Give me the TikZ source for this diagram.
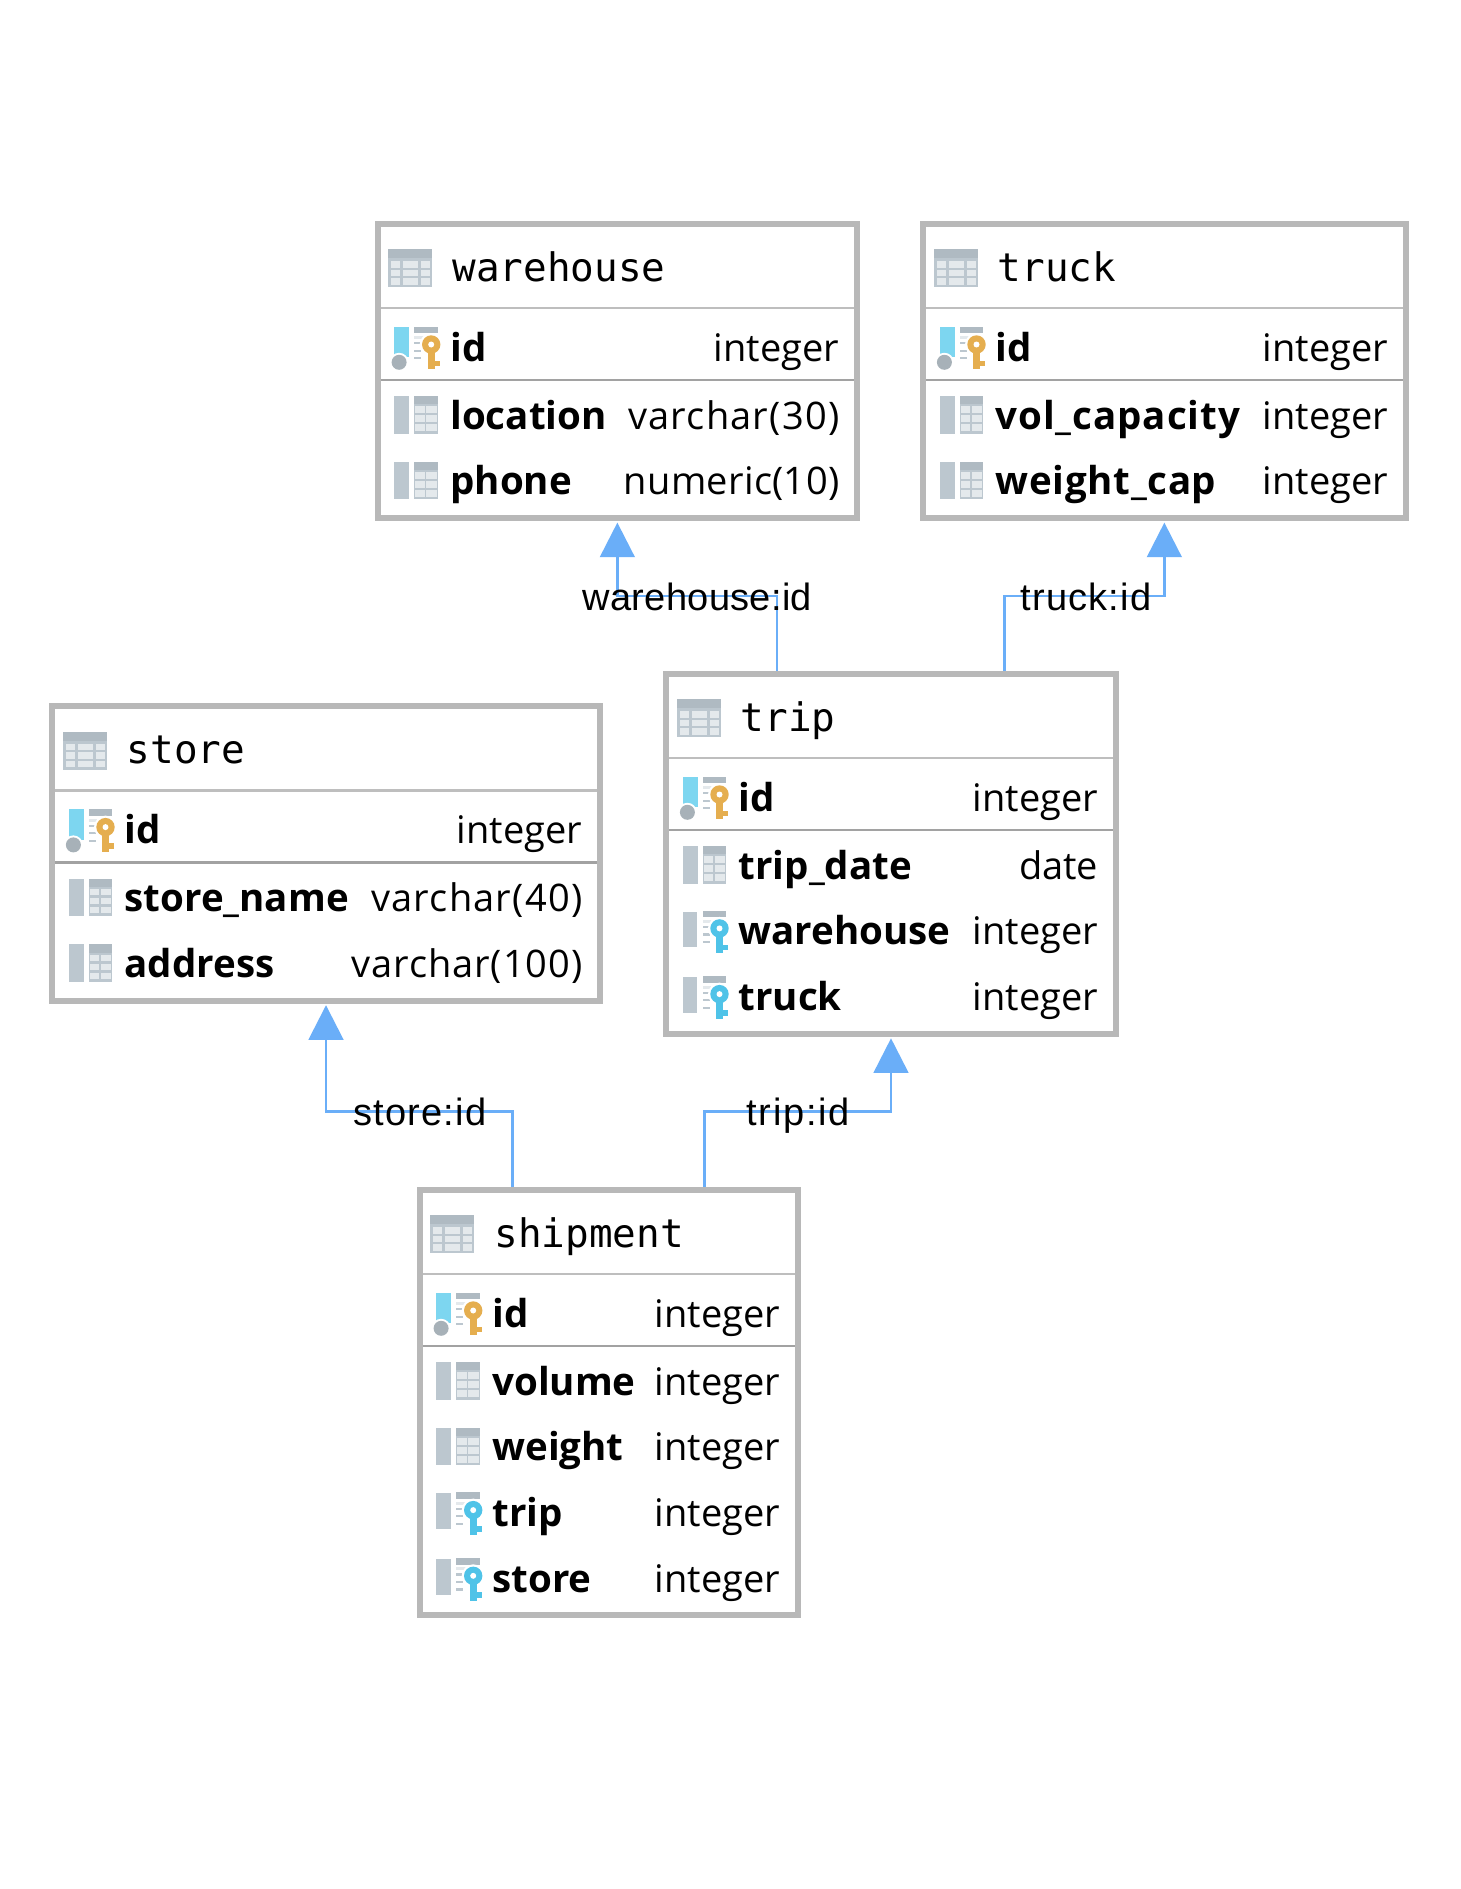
\documentclass[tikz,border=0pt]{standalone}
\usepackage{fontspec}
\setmainfont{Open Sans}
\newfontfamily\titlemono{DejaVu Sans Mono}
\newfontfamily\edgefont{Liberation Sans}
\newcommand{\spaced}[2]{{\addfontfeatures{LetterSpace=#1}#2}}
\newcommand{\rtype}[2]{\spaced{#1}{#2}\hspace{2.2pt}}
\usetikzlibrary{arrows.meta}
\definecolor{bordergray}{HTML}{B8B8B8}
\definecolor{divlight}{HTML}{BEBEBE}
\definecolor{divdark}{HTML}{A2A2A2}
\definecolor{fkblue}{HTML}{6AAEF8}
\definecolor{iconbar}{HTML}{BCC7CF}
\definecolor{iconhead}{HTML}{AFBAC2}
\definecolor{iconcell}{HTML}{E4E9EC}
\definecolor{pkbar}{HTML}{7DD6F0}
\definecolor{dotgray}{HTML}{A7B1B8}
\definecolor{keygold}{HTML}{E5AE4F}
\definecolor{keycyan}{HTML}{4FC3E8}
\newcommand{\drawkey}[1]{%
  \fill[white] (36.8,-15.5) circle (11.5);
  \fill[#1] (33.6,-15) rectangle (40.2,9.2);
  \fill[#1] (40,0.8) rectangle (45.6,6.4);
  \fill[#1] (36.8,-15.5) circle (9.2);
  \fill[white] (36.8,-15.5) circle (3);
}
\newcommand{\drawdashes}{%
  \fill[iconhead] (20,-33.3) rectangle (43.4,-26.6);
  \fill[iconcell] (20,-24) rectangle (43.4,-21);
  \foreach \yy in {-18,-10.5,-3}{\fill[iconbar] (20,\yy) rectangle (27,\yy+2.2);}
}
\tikzset{
  tablebox/.style={draw=bordergray,line width=6pt,fill=white,inner sep=0pt,rectangle},
  divone/.style={draw=divlight,line width=2.4pt},
  divtwo/.style={draw=divdark,line width=2.4pt},
  fklink/.style={draw=fkblue,line width=2.8pt,fill=none,shorten >=1.7pt,
    -{Triangle[length=34.6pt,width=34.6pt,sep=0pt,fkblue]}},
  titlelabel/.style={inner sep=0pt,anchor=base west,font=\titlemono\fontsize{39.3}{42}\selectfont},
  collabel/.style={inner sep=0pt,anchor=base west,font=\bfseries\fontsize{38.5}{42}\selectfont},
  typelabel/.style={inner sep=0pt,anchor=base east,font=\fontsize{38}{42}\selectfont},
  edgelabel/.style={inner sep=0pt,anchor=base,font=\edgefont\fontsize{38}{42}\selectfont},
  tableicon/.pic={
    \fill[iconbar] (0,0) rectangle (44,38);
    \fill[iconhead] (0,0) rectangle (44,9);
    \foreach \cx/\cw in {3/9,15/15,33/9}{
      \foreach \cy in {12,20.5,29}{
        \fill[iconcell] (\cx,\cy) rectangle (\cx+\cw,\cy+6.2);
      }
    }
  },
  colicon/.pic={
    \fill[iconbar] (0,-32.3) rectangle (15,5.3);
    \fill[iconbar] (20,-32.3) rectangle (43.4,5.3);
    \fill[iconhead] (20,-32.3) rectangle (43.4,-24);
    \foreach \cx/\cw in {21/9.5,32/10.4}{
      \foreach \cy in {-22,-13,-4}{
        \fill[iconcell] (\cx,\cy) rectangle (\cx+\cw,\cy+6.6);
      }
    }
  },
  pkicon/.pic={
    \fill[pkbar] (0,-33.3) rectangle (15,-3);
    \fill[white] (4.7,2.3) circle (9.5);
    \fill[dotgray] (4.7,2.3) circle (7.5);
    \drawdashes
    \drawkey{keygold}
  },
  fkicon/.pic={
    \fill[iconbar] (0,-32.3) rectangle (14.5,3.5);
    \drawdashes
    \drawkey{keycyan}
  },
}
\newcommand{\dbbox}[6]{% name, left, top, right, rows, title
  \pgfmathsetmacro\boxw{#4-#2-6}
  \pgfmathsetmacro\boxh{207.5+65.7*(#5-1)+27-6}
  \node[tablebox,anchor=north west,minimum width=\boxw pt,minimum height=\boxh pt] (#1) at (#2,#3) {};
  \draw[divone] (#2+6,#3+87.3) -- (#4-6,#3+87.3);
  \draw[divtwo] (#2+6,#3+159.2) -- (#4-6,#3+159.2);
  \pic at (#2+13.7,#3+28.6) {tableicon};
  \node[titlelabel] (#1-title) at (#2+77.5,#3+60.4) {#6};
}
\newcommand{\dbrow}[8]{% table, tag, left, right, baseline, icon, name, type
  \pic at (#3+19.7,#5) {#6};
  \node[collabel] (#1-#2-name) at (#3+75.5,#5+1) {#7};
  \node[typelabel] (#1-#2-type) at (#4-20.5,#5+1) {#8};
}
\begin{document}
\begin{tikzpicture}[x=1pt,y=-1pt]
\fill[white] (0,0) rectangle (1460,1889);
\useasboundingbox (0,0) rectangle (1460,1889);
% tables
\dbbox{warehouse}{374.7}{220.7}{860}{2}{warehouse}
\dbrow{warehouse}{a}{374.7}{860}{360}{pkicon}{id}{integer}
\dbrow{warehouse}{b}{374.7}{860}{428.2}{colicon}{location}{\rtype{3.2}{varchar(30)}}
\dbrow{warehouse}{c}{374.7}{860}{493.9}{colicon}{phone}{\rtype{0.8}{numeric(10)}}
\dbbox{truck}{920}{220.7}{1408.7}{2}{truck}
\dbrow{truck}{a}{920}{1408.7}{360}{pkicon}{id}{integer}
\dbrow{truck}{b}{920}{1408.7}{428.2}{colicon}{\spaced{2.4}{vol\_capacity}}{integer}
\dbrow{truck}{c}{920}{1408.7}{493.9}{colicon}{\spaced{1.8}{weight\_cap}}{integer}
\dbbox{store}{49}{703.3}{603}{2}{store}
\dbrow{store}{a}{49}{603}{842.6}{pkicon}{id}{integer}
\dbrow{store}{b}{49}{603}{910.8}{colicon}{store\_name}{\rtype{3.2}{varchar(40)}}
\dbrow{store}{c}{49}{603}{976.5}{colicon}{address}{\rtype{2.4}{varchar(100)}}
\dbbox{trip}{663}{670.7}{1119}{3}{trip}
\dbrow{trip}{a}{663}{1119}{810}{pkicon}{id}{integer}
\dbrow{trip}{b}{663}{1119}{878.2}{colicon}{trip\_date}{date}
\dbrow{trip}{c}{663}{1119}{943.9}{fkicon}{warehouse}{integer}
\dbrow{trip}{d}{663}{1119}{1009.6}{fkicon}{truck}{integer}
\dbbox{shipment}{416.7}{1186.7}{800.7}{4}{shipment}
\dbrow{shipment}{a}{416.7}{800.7}{1326}{pkicon}{id}{integer}
\dbrow{shipment}{b}{416.7}{800.7}{1394.2}{colicon}{volume}{integer}
\dbrow{shipment}{c}{416.7}{800.7}{1459.9}{colicon}{weight}{integer}
\dbrow{shipment}{d}{416.7}{800.7}{1525.6}{fkicon}{trip}{integer}
\dbrow{shipment}{e}{416.7}{800.7}{1591.3}{fkicon}{store}{integer}
% connectors
\coordinate (wfrom) at (777,596);
\coordinate (tfrom) at (1004.6,596);
\coordinate (sfrom) at (512.3,1111.7);
\coordinate (pfrom) at (704.5,1111.7);
\draw[fklink] (trip.north -| wfrom) -- (wfrom) -- (wfrom -| warehouse.south) -- (warehouse.south);
\draw[fklink] (trip.north -| tfrom) -- (tfrom) -- (tfrom -| truck.south) -- (truck.south);
\draw[fklink] (shipment.north -| sfrom) -- (sfrom) -- (sfrom -| store.south) -- (store.south);
\draw[fklink] (shipment.north -| pfrom) -- (pfrom) -- (pfrom -| trip.south) -- (trip.south);
\node[edgelabel] (wlabel) at (697.5,610) {\spaced{0.8}{warehouse:id}};
\node[edgelabel] (tlabel) at (1086,610) {\spaced{3}{truck:id}};
\node[edgelabel] (slabel) at (420,1125.3) {\spaced{3}{store:id}};
\node[edgelabel] (plabel) at (798,1125.3) {\spaced{4.5}{trip:id}};
\end{tikzpicture}
\end{document}
